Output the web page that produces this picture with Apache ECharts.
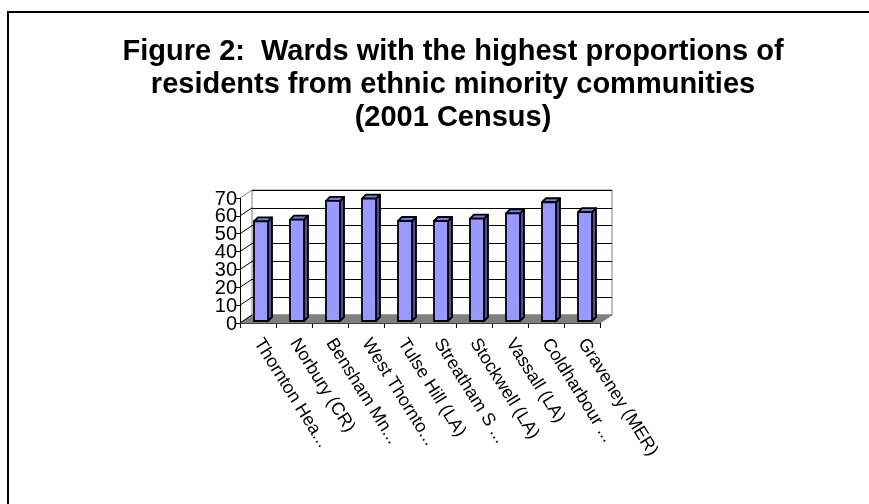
<!DOCTYPE html>
<html>
<head>
<meta charset="utf-8">
<script src="https://cdn.jsdelivr.net/npm/echarts@6/dist/echarts.min.js"></script>
<style>
  html, body { margin: 0; padding: 0; background: #fff; }
  #chart { width: 869px; height: 504px; }
</style>
</head>
<body>
<div id="chart"></div>
<script>
// 数据
var wards = ['Thornton Hea...', 'Norbury (CR)', 'Bensham Mn...', 'West Thornto...', 'Tulse Hill (LA)',
             'Streatham S ...', 'Stockwell (LA)', 'Vassall (LA)', 'Coldharbour ...', 'Graveney (MER)'];
var ethnicPct = [55.8, 56.8, 67.3, 68.5, 56.0, 56.0, 57.3, 60.3, 66.5, 61.0];
var yTicks = [0, 10, 20, 30, 40, 50, 60, 70];

// 3D depth offset of back wall
var DX = 12, DY = -8;

var chart = echarts.init(document.getElementById('chart'));

// floor + left wall lines + y tick labels (the axis would hide overlapping ones)
function renderFrame(params, api) {
  var v = api.value(0);
  var half = api.size([1, 0])[0] / 2;
  var p = api.coord([0, v]);
  var x0 = p[0] - half;
  var children = [{
    type: 'line',
    shape: { x1: x0, y1: p[1], x2: x0 + DX, y2: p[1] + DY },
    style: { stroke: v === 70 ? '#808080' : '#000', lineWidth: 1 }
  }, {
    type: 'text',
    x: x0 - 3, y: p[1] + 1,
    style: { text: String(v), fontSize: 20, fill: '#000', align: 'right', verticalAlign: 'middle',
             fontFamily: 'Liberation Sans, Arial, sans-serif' }
  }];
  if (v === 0) {
    var pEnd = api.coord([wards.length - 1, 0]);
    var x1 = pEnd[0] + half;
    children.push({
      type: 'polygon',
      shape: { points: [[x0, p[1]], [x1, p[1]], [x1 + DX, p[1] + DY], [x0 + DX, p[1] + DY]] },
      style: { fill: '#808080', stroke: '#808080' },
      z2: -1
    });
  }
  return { type: 'group', children: children };
}

// 3D column
function renderBar(params, api) {
  var i = api.value(0);
  var top = api.coord([i, api.value(1)]);
  var base = api.coord([i, 0]);
  var w = api.size([1, 0])[0] * 0.39;
  var d = 4;
  var l = top[0] - w / 2 + 3, r = l + w;
  var t = top[1] - 2, b = base[1] - 2;
  var line = { stroke: '#000', lineWidth: 1.8, lineJoin: 'round' };
  return {
    type: 'group',
    children: [
      { type: 'polygon', shape: { points: [[r, t], [r + d, t - d], [r + d, b - d], [r, b]] },
        style: Object.assign({ fill: '#4d4d99' }, line) },
      { type: 'polygon', shape: { points: [[l, t], [l + d, t - d], [r + d, t - d], [r, t]] },
        style: Object.assign({ fill: '#7a7ad6' }, line) },
      { type: 'rect', shape: { x: l, y: t, width: w, height: b - t },
        style: Object.assign({ fill: '#9999ff' }, line) }
    ]
  };
}

var option = {
  backgroundColor: '#fff',
  textStyle: { fontFamily: 'Liberation Sans, Arial, sans-serif' },
  title: {
    text: 'Figure 2:  Wards with the highest proportions of\nresidents from ethnic minority communities\n(2001 Census)',
    left: 448,
    top: 30,
    textAlign: 'center',
    textStyle: { fontSize: 29, fontWeight: 'bold', color: '#000', lineHeight: 33,
                 fontFamily: 'Liberation Sans, Arial, sans-serif' }
  },
  graphic: [{
    type: 'rect', shape: { x: 8, y: 12, width: 900, height: 600 },
    style: { fill: 'none', stroke: '#000', lineWidth: 2 }, silent: true
  }],
  grid: [
    { left: 240, top: 198, width: 360, height: 125 },
    { left: 240 + DX, top: 198 + DY, width: 360, height: 125,
      show: true, borderColor: '#808080', borderWidth: 1, backgroundColor: '#fff', z: 0 }
  ],
  xAxis: [
    { type: 'category', gridIndex: 0, data: wards,
      axisLine: { lineStyle: { color: '#000', width: 1 } },
      axisTick: { show: true, length: 5, lineStyle: { color: '#000' } },
      axisLabel: { rotate: -58, fontSize: 18, color: '#000', margin: 17, interval: 0,
                   hideOverlap: false } },
    { type: 'category', gridIndex: 1, data: wards, show: false }
  ],
  yAxis: [
    { type: 'value', gridIndex: 0, min: 0, max: 70, interval: 10,
      axisLine: { show: true, lineStyle: { color: '#000', width: 1 } },
      axisTick: { show: true, length: 4, lineStyle: { color: '#000' } },
      axisLabel: { show: false },
      splitLine: { show: false } },
    { type: 'value', gridIndex: 1, min: 0, max: 70, interval: 10,
      axisLine: { show: false }, axisTick: { show: false }, axisLabel: { show: false },
      splitLine: { show: true, lineStyle: { color: '#000', width: 1 } } }
  ],
  series: [
    { type: 'custom', xAxisIndex: 0, yAxisIndex: 0, z: 1,
      data: yTicks.map(function (v) { return [v]; }),
      encode: { y: 0 }, renderItem: renderFrame, silent: true },
    { type: 'custom', name: 'ethnic minority %', xAxisIndex: 0, yAxisIndex: 0, z: 3,
      data: ethnicPct.map(function (v, i) { return [i, v]; }),
      encode: { x: 0, y: 1 }, renderItem: renderBar }
  ]
};
option && chart.setOption(option);
</script>
</body>
</html>
